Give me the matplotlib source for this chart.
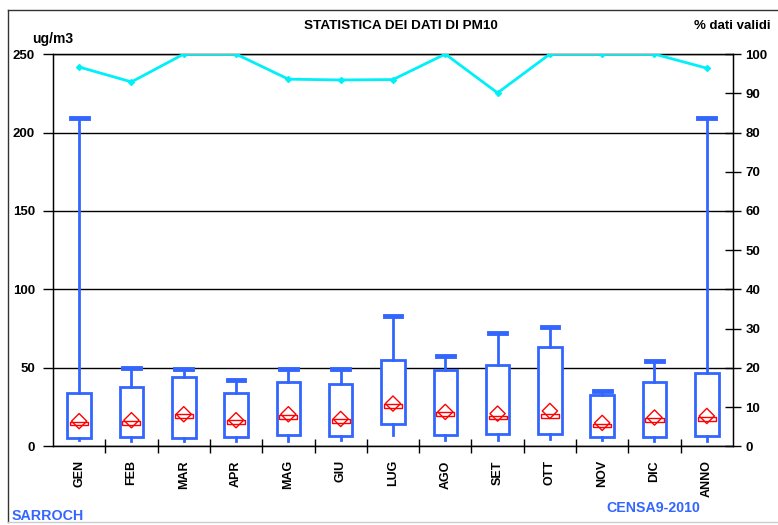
import matplotlib.pyplot as plt
from matplotlib.lines import Line2D

plt.rcParams["font.family"] = ["Liberation Sans", "DejaVu Sans"]
plt.rcParams["font.weight"] = "bold"

# ----------------- Data -----------------
months = ["GEN", "FEB", "MAR", "APR", "MAG", "GIU", "LUG", "AGO", "SET", "OTT", "NOV", "DIC", "ANNO"]
vmin = [3.8, 3.2, 3.2, 3.2, 3.2, 3.8, 7.0, 3.8, 3.8, 4.9, 4.3, 3.4, 3.2]
q1 = [5.5, 5.9, 5.5, 5.9, 7.2, 6.4, 14.0, 7.0, 7.7, 7.7, 5.7, 5.7, 6.4]
median = [14.5, 14.9, 19.1, 15.7, 18.7, 16.1, 25.5, 20.8, 18.3, 19.1, 13.2, 16.6, 17.4]
mean = [16.0, 16.6, 20.4, 16.6, 20.4, 17.4, 27.2, 21.9, 20.8, 22.5, 14.9, 18.3, 19.3]
q3 = [33.8, 37.8, 44.0, 34.0, 40.8, 40.0, 55.3, 48.5, 51.7, 63.0, 32.5, 41.0, 46.4]
vmax = [209, 50, 49.3, 42.5, 49.3, 49.1, 82.9, 57.4, 71.9, 76.1, 35.3, 54.2, 209]
pct_valid = [96.7, 92.9, 100, 100, 93.6, 93.4, 93.5, 100, 90.1, 100, 100, 100, 96.4]

blue = "#3366ff"
red = "#ff0000"
cyan = "#00f0f8"

fig = plt.figure(figsize=(7.78, 5.25), dpi=100)
ax = fig.add_axes([0.0681, 0.150, 0.874, 0.747])

stats = [
    dict(label=m, whislo=lo, q1=a, med=md, mean=mn, q3=b, whishi=hi)
    for m, lo, a, md, mn, b, hi in zip(months, vmin, q1, median, mean, q3, vmax)
]
pos = list(range(len(months)))
bp = ax.bxp(
    stats, positions=pos, widths=0.45, patch_artist=True, showfliers=False,
    showmeans=False, capwidths=0.32,
    boxprops=dict(facecolor="white", edgecolor=blue, linewidth=2.0),
    whiskerprops=dict(color=blue, linewidth=2.0),
    capprops=dict(color=blue, linewidth=3.5),
    medianprops=dict(visible=False),
)
for cap in bp["caps"][::2]:
    cap.set_visible(False)

# median as small red rectangle, mean as red open diamond
rect = [(-2.6, -0.55), (2.6, -0.55), (2.6, 0.55), (-2.6, 0.55), (-2.6, -0.55)]
ax.scatter(pos, median, marker=rect, s=170, facecolor="none", edgecolor=red,
           linewidth=1.0, zorder=4)
ax.scatter(pos, mean, marker="D", s=60, facecolor="none", edgecolor=red,
           linewidth=1.0, zorder=5)

ax.set_xlim(-0.5, len(months) - 0.5)
ax.set_ylim(0, 250)
ax.set_yticks([0, 50, 100, 150, 200, 250])
ax.yaxis.grid(True, color="black", linewidth=1.0)
ax.set_axisbelow(True)
ax.set_xticks(pos)
ax.set_xticklabels(months, rotation=90, fontsize=9, fontweight="bold", va="top")
ax.set_xticks([p + 0.5 for p in pos[:-1]], minor=True)
ax.tick_params(axis="x", which="major", length=0, pad=10)
ax.tick_params(axis="x", which="minor", direction="inout", length=10, width=1)
ax.tick_params(axis="y", direction="out", length=7, width=1, labelsize=9.5, pad=6)
for lbl in ax.get_yticklabels():
    lbl.set_fontweight("bold")
for side in ["left", "bottom", "top", "right"]:
    ax.spines[side].set_linewidth(1.0)

# % dati validi on the right axis
ax2 = ax.twinx()
ax2.plot(pos, pct_valid, color=cyan, linewidth=2.0, marker="D", markersize=3,
         zorder=6)
ax2.set_ylim(0, 100)
ax2.set_yticks(range(0, 101, 10))
ax2.tick_params(axis="y", direction="inout", length=12, width=1, labelsize=9.5, pad=3)
for lbl in ax2.get_yticklabels():
    lbl.set_fontweight("bold")

# ----------------- Texts -----------------
fig.text(0.515, 0.950, "STATISTICA DEI DATI DI PM10", ha="center", va="center",
         fontsize=9.7, fontweight="bold")
fig.text(0.041, 0.926, "ug/m3", ha="left", va="center", fontsize=10, fontweight="bold")
fig.text(0.990, 0.950, "% dati validi", ha="right", va="center", fontsize=9.5,
         fontweight="bold")
fig.text(0.015, 0.018, "SARROCH", ha="left", va="center", fontsize=10.3,
         fontweight="bold", color=blue)
fig.text(0.840, 0.032, "CENSA9-2010", ha="center", va="center", fontsize=10.2,
         fontweight="bold", color=blue)

# outer frame
fig.add_artist(Line2D([0.0103, 1.0], [0.981, 0.981], color="#333333", linewidth=1.0))
fig.add_artist(Line2D([0.0103, 0.0103], [0.006, 0.981], color="#333333", linewidth=1.0))
fig.add_artist(Line2D([0.0103, 1.0], [0.006, 0.006], color="#cccccc", linewidth=1.0))

fig.savefig("out.png", dpi=100)
